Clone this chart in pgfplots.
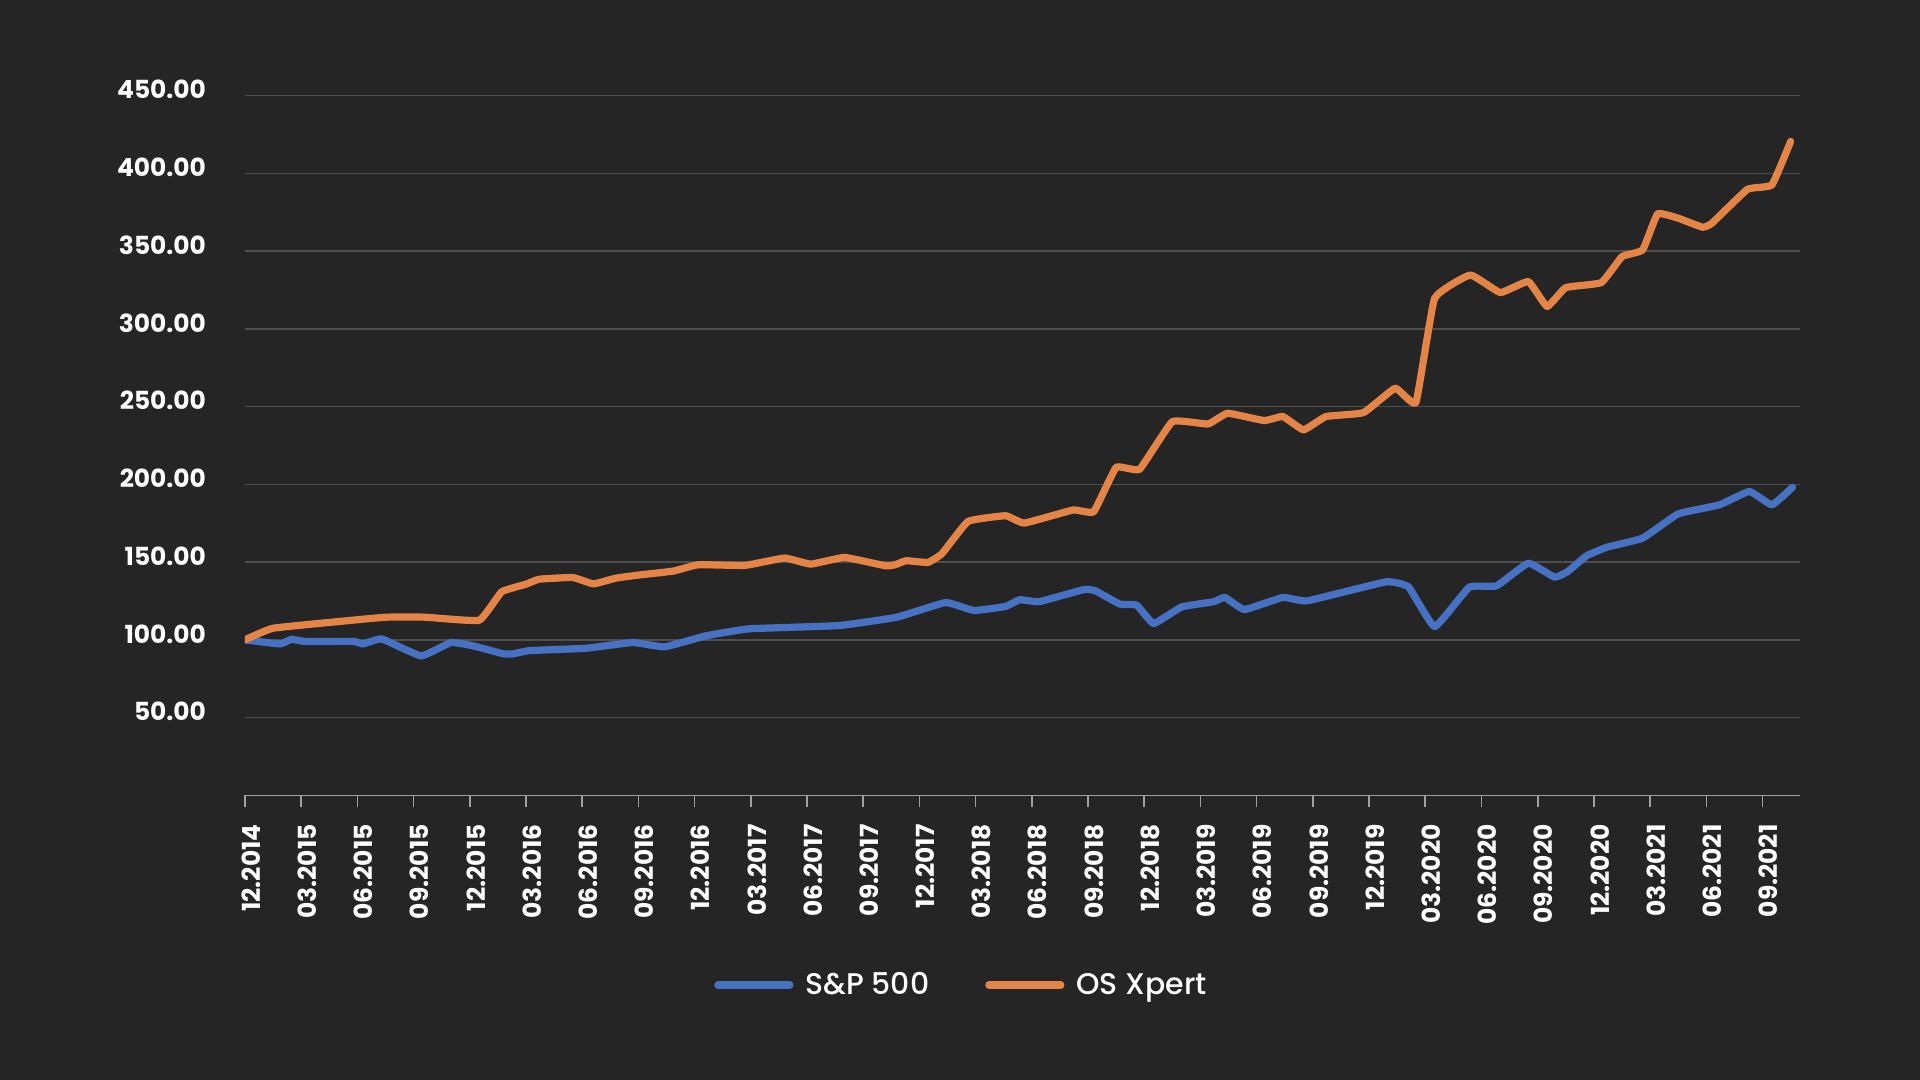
\documentclass[border=0pt]{standalone}
\usepackage{fontspec}
\setmainfont{Poppins}[BoldFont={Poppins Bold}]
\newfontfamily\legendfont{Poppins Medium}
\usepackage{pgfplots}
\pgfplotsset{compat=1.18}
\definecolor{bg}{RGB}{37,37,37}
\definecolor{spblue}{RGB}{71,114,196}
\definecolor{osorange}{RGB}{228,132,70}
\definecolor{gridgray}{RGB}{78,78,78}
\definecolor{axgray}{RGB}{160,160,160}
\begin{document}
\begin{tikzpicture}
\fill[bg] (-122.5bp,-142.3bp) rectangle (837.5bp,397.7bp);
\begin{axis}[
  at={(0,0)}, anchor=south west,
  scale only axis, width=777.5bp, height=349.95bp,
  xmin=0, xmax=83, ymin=0, ymax=450,
  axis x line*=bottom, axis y line*=left,
  x axis line style={draw=axgray, line width=0.8bp},
  y axis line style={draw=none},
  xtick={0,3,...,81},
  xticklabels={12.2014,03.2015,06.2015,09.2015,12.2015,03.2016,06.2016,09.2016,12.2016,03.2017,06.2017,09.2017,12.2017,03.2018,06.2018,09.2018,12.2018,03.2019,06.2019,09.2019,12.2019,03.2020,06.2020,09.2020,12.2020,03.2021,06.2021,09.2021},
  xtick style={draw=axgray, line width=0.8bp},
  tick align=outside, major tick length=6bp,
  xticklabel style={xshift=3bp, rotate=90, anchor=east, text=white, font=\bfseries\fontsize{12.5}{14}\selectfont},
  xticklabel shift=5bp,
  ytick={50,100,...,450},
  yticklabels={50.00,100.00,150.00,200.00,250.00,300.00,350.00,400.00,450.00},
  ytick style={draw=none},
  yticklabel style={anchor=east, text=white, yshift=3bp, font=\bfseries\fontsize{12.5}{14}\selectfont},
  yticklabel shift=10bp,
  ymajorgrids, major grid style={draw=gridgray, line width=0.75bp},
  legend style={at={(0.464,-0.271)}, anchor=center, draw=none, fill=none, text=white,
    font=\legendfont\fontsize{15}{17}\selectfont, legend columns=2,
    nodes={inner xsep=6bp},
    /tikz/every even column/.append style={column sep=22bp}},
  legend image code/.code={\draw[#1, line width=3.6bp, line cap=round] (0bp,0bp) -- (36bp,0bp);},
  every axis plot/.append style={line width=3.6bp, line join=round, line cap=round, smooth, tension=0.2},
]
\addplot[spblue] coordinates {
(0,100) (1.87,97.4) (2.47,100.4) (3.2,99) (5.78,99) (6.3,97.4) (7.3,100.6) (9.4,89.7)
(11.0,98.3) (12.2,96.1) (13.8,91) (14.3,91) (15.2,93.1) (18.2,94.6) (20.7,98.3) (22.4,95.5)
(24.6,102.6) (26.9,107.1) (31.7,109.2) (34.8,114.6) (37.4,124) (38.9,118.9) (40.6,121.5)
(41.35,125.8) (42.4,124.6) (44.8,132.4) (45.4,131.5) (46.7,123) (47.6,122.3) (48.5,110.5)
(50.0,121.2) (51.7,124.5) (52.3,127.3) (53.35,119.5) (55.4,127.3) (56.7,125.1) (60.9,137.3)
(62.1,134.1) (63.5,108.5) (65.35,133.9) (66.8,134.7) (68.5,149.3) (69.9,140.3) (70.6,143.9)
(71.6,154) (72.7,159.6) (74.6,165.4) (76.5,181) (78.7,186.8) (80.3,195.4) (81.5,186.8) (82.6,198.1)
};
\addlegendentry{S\&P 500}
\addplot[osorange] coordinates {
(0,100) (1.51,107.5) (5.96,112.9) (7.56,114.6) (9.6,114.6) (12.5,112.6) (13.7,130.9) (15.0,135.8)
(15.7,139) (17.5,140.1) (18.6,136) (19.8,139.7) (21.1,141.8) (22.85,144.2) (24.2,148.3) (26.7,147.9)
(28.8,152.6) (30.2,148.7) (32.0,153) (34.2,147.6) (34.7,148.3) (35.3,150.9) (36.45,149.8)
(37.2,155.4) (38.6,176.2) (40.6,179.8) (41.6,175.1) (44.2,183.5) (45.3,182.4) (46.5,210.9)
(47.75,209.7) (49.5,240.3) (51.4,238.8) (52.45,245.7) (54.4,241) (55.4,243.6) (56.5,235)
(57.7,243.6) (59.7,246.1) (61.4,261.8) (62.5,252.6) (63.5,319.6) (65.4,334.6) (67.0,323.3)
(68.5,330.4) (69.5,314.3) (70.5,326.5) (72.4,329.7) (73.5,346.4) (74.6,350.7) (75.4,373.9)
(76.5,371.1) (77.8,365.3) (78.3,367.9) (80.2,389.7) (81.5,392.5) (82.5,420.4)
};
\addlegendentry{OS Xpert}
\end{axis}
\end{tikzpicture}
\end{document}
